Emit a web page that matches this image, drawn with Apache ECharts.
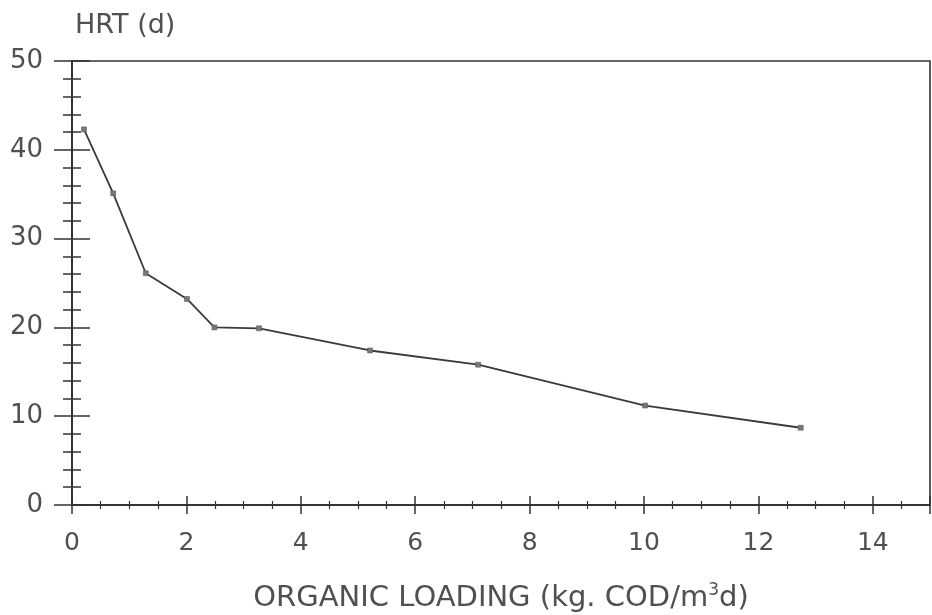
<!DOCTYPE html>
<html>
<head>
<meta charset="utf-8">
<script src="https://cdn.jsdelivr.net/npm/echarts@6/dist/echarts.min.js"></script>
<style>
html,body{margin:0;padding:0;background:#fff;}
#chart{width:932px;height:615px;}
</style>
</head>
<body>
<div id="chart"></div>
<script>
// Data
const organicLoading = [0.21, 0.72, 1.29, 2.01, 2.49, 3.27, 5.21, 7.10, 10.02, 12.74];
const hrtDays        = [42.3, 35.1, 26.1, 23.2, 20.0, 19.9, 17.4, 15.8, 11.2, 8.7];
const xTickLabels = ['0','2','4','6','8','10','12','14'];
const yTickLabels = ['0','10','20','30','40','50'];
const yTitle = 'HRT (d)';
const xTitle = 'ORGANIC LOADING (kg. COD/m{sup|3}d)';

const FONT = 'DejaVu Sans';
const TXT = '#505050';
const AX = '#333';

const points = organicLoading.map((x, i) => [x, hrtDays[i]]);

function xAxisBase(inside, labels) {
  return {
    type: 'value', min: 0, max: 15, interval: 2, position: 'bottom',
    axisLine: { show: true, onZero: false, lineStyle: { color: AX, width: 1.6 } },
    axisTick: { show: true, inside: inside, length: 9, lineStyle: { color: AX, width: 1.5 } },
    minorTick: { show: true, splitNumber: 4, length: 4, lineStyle: { color: AX, width: 1.2 } },
    splitLine: { show: false },
    axisLabel: labels ? {
      show: true, margin: 26, fontSize: 25, color: TXT, fontFamily: FONT, showMaxLabel: false,
      formatter: v => (xTickLabels.indexOf(String(v)) >= 0 ? String(v) : '')
    } : { show: false },
    name: labels ? xTitle : '',
    nameLocation: 'middle', nameGap: 77,
    nameTextStyle: {
      fontSize: 29, color: TXT, fontFamily: FONT,
      rich: { sup: { fontSize: 17, color: TXT, fontFamily: FONT, verticalAlign: 'top', padding: [0, 0, 16, 0] } }
    }
  };
}
function yAxisBase(inside, labels) {
  return {
    type: 'value', min: 0, max: 50, interval: 10, position: 'left',
    axisLine: { show: true, onZero: false, lineStyle: { color: AX, width: 1.6 } },
    axisTick: { show: true, inside: inside, length: 18, lineStyle: { color: AX, width: 1.5 } },
    minorTick: { show: true, splitNumber: 5, length: 9, lineStyle: { color: AX, width: 1.5 } },
    splitLine: { show: false },
    axisLabel: labels ? {
      show: true, margin: 29, fontSize: 26, color: TXT, fontFamily: FONT,
      formatter: v => (yTickLabels.indexOf(String(v)) >= 0 ? String(v) : '')
    } : { show: false }
  };
}

const chart = echarts.init(document.getElementById('chart'), null, { renderer: 'canvas' });
chart.setOption({
  backgroundColor: '#fff',
  animation: false,
  title: {
    text: yTitle, left: 70, top: 7,
    textStyle: { fontSize: 27, fontWeight: 'normal', color: TXT, fontFamily: FONT }
  },
  grid: {
    left: 72, right: 2, top: 61, bottom: 110,
    outerBoundsMode: 'none', containLabel: false,
    show: true, borderColor: AX, borderWidth: 1.6, backgroundColor: 'transparent'
  },
  xAxis: [xAxisBase(false, true), xAxisBase(true, false)],
  yAxis: [yAxisBase(false, true), yAxisBase(true, false)],
  series: [{
    type: 'line',
    data: points,
    xAxisIndex: 0, yAxisIndex: 0,
    symbol: 'rect', symbolSize: 5,
    lineStyle: { color: '#3a3a3a', width: 1.8 },
    itemStyle: { color: '#777', borderColor: '#555', borderWidth: 0.5 }
  }]
});
</script>
</body>
</html>
